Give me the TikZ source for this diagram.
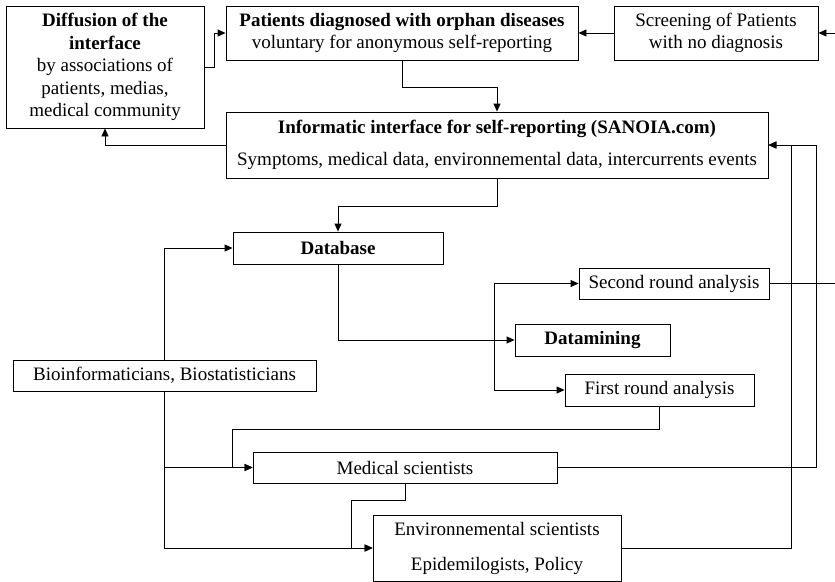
\documentclass[tikz,border=0pt]{standalone}
\usepackage{fontspec}
\setmainfont{Liberation Serif}
\usepackage{tikz}
\usetikzlibrary{positioning, calc, shapes, arrows.meta}
\tikzstyle{Arrow} = [
%Custom arrow style for the flow lines:
line width = 0.9pt,
-{Triangle[length = 8pt, width = 7pt]}
]
\tikzstyle{Line} = [line width = 0.9pt]

\begin{document}
\begin{tikzpicture}[
			x = 1pt, y = -1pt,
			box/.style = {rectangle, draw, line width = 0.9pt, align = center, inner sep = 0pt, font = \fontsize{19}{22.5}\selectfont},
		]
		\useasboundingbox (0,0) rectangle (835,581);

		\node[box, minimum width = 198pt, minimum height = 122pt](diff) at (105,67){\textbf{Diffusion of the}\\\textbf{interface}\\by associations of\\patients, medias,\\medical community};
		\node[box, minimum width = 352pt, minimum height = 54pt](pat) at (402,33){\textbf{Patients diagnosed with orphan diseases}\\voluntary for anonymous self-reporting};
		\node[box, minimum width = 204pt, minimum height = 54pt](scr) at (716,33){Screening of Patients\\with no diagnosis};
		\node[box, minimum width = 542pt, minimum height = 66pt](info) at (497,145){\textbf{Informatic interface for self-reporting (SANOIA.com)}\\[9.5pt]Symptoms, medical data, environnemental data, intercurrents events};
		\node[box, minimum width = 210pt, minimum height = 32pt](db) at (338,248){\textbf{Database}};
		\node[box, minimum width = 190pt, minimum height = 31pt](sec) at (674,283.5){Second round analysis};
		\node[box, minimum width = 155pt, minimum height = 32pt](dm) at (592.5,340){\textbf{Datamining}};
		\node[box, minimum width = 189pt, minimum height = 32pt](first) at (659.5,390){First round analysis};
		\node[box, minimum width = 303pt, minimum height = 31pt](bio) at (164.5,375.5){Bioinformaticians, Biostatisticians};
		\node[box, minimum width = 304pt, minimum height = 31pt](med) at (405,467.5){Medical scientists};
		\node[box, minimum width = 248pt, minimum height = 66pt](env) at (497,548){Environnemental scientists\\[12.5pt]Epidemilogists, Policy};

		\coordinate(rin) at (835,33);
		\coordinate(rout) at (835,283.5);
		\coordinate(split) at ($(dm.west)+(-20,0)$);
		\coordinate(medin) at ($(med.west)+(-20,0)$);
		\coordinate(envin) at ($(env.west)+(-21,0)$);

		\draw[Arrow](diff.east)--++(10,0)|-(pat.west);
		\draw[Arrow](scr.west)--(pat.east);
		\draw[Arrow](rin)--(scr.east);
		\draw[Arrow](pat.south)--++(0,27)-|(info.north);
		\draw[Arrow](info.west)-|(diff.south);
		\draw[Arrow](info.south)--++(0,28)-|(db.north);
		\draw[Arrow](bio.north)|-(db.west);
		\draw[Arrow](db.south)|-(dm.west);
		\draw[Arrow](split)|-(sec.west);
		\draw[Arrow](split)|-(first.west);
		\draw[Line](sec.east)--(rout);
		\draw[Arrow](first.south)--++(0,23)-|(medin)--(med.west);
		\draw[Arrow](bio.south)|-(med.west);
		\draw[Arrow](bio.south)|-(env.west);
		\draw[Arrow](med.south)--++(0,17)-|(envin)--(env.west);
		\draw[Arrow](med.east)-|($(info.east)+(48,0)$)--(info.east);
		\draw[Arrow](env.east)-|($(info.east)+(23,0)$)--(info.east);
	\end{tikzpicture}
\end{document}
